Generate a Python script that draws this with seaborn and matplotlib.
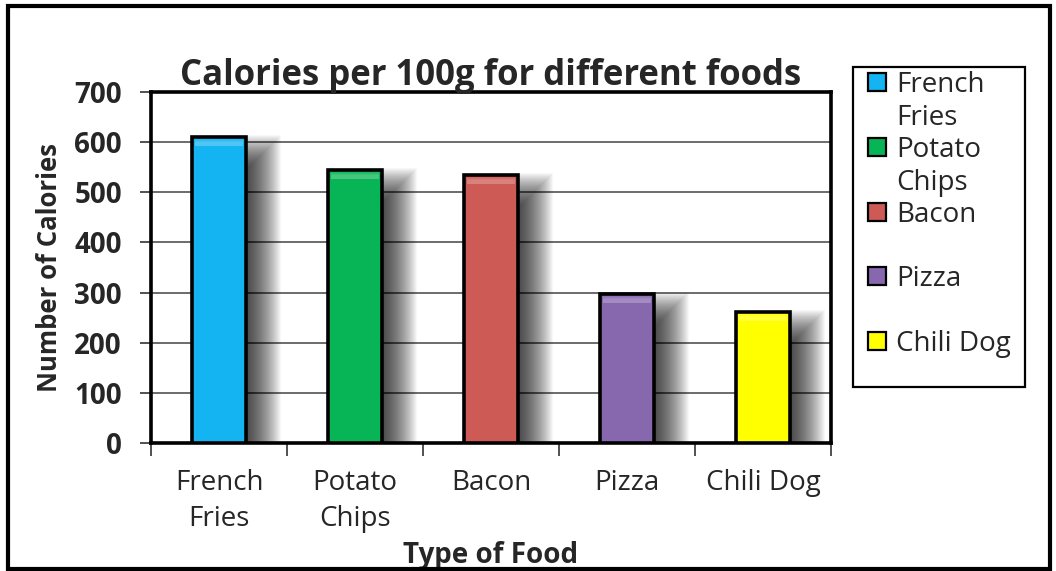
import numpy as np
import pandas as pd
import matplotlib
matplotlib.use("Agg")
import matplotlib.pyplot as plt
from matplotlib.patches import Rectangle
import seaborn as sns

# Data
foods = ["French\nFries", "Potato\nChips", "Bacon", "Pizza", "Chili Dog"]
calories = [610, 545, 535, 297, 262]
bar_colors = ["#14B4F2", "#08B556", "#CD5A55", "#8767AE", "#FFFF00"]
y_ticks = [0, 100, 200, 300, 400, 500, 600, 700]

sns.set_theme(style="white")
plt.rcParams["font.family"] = ["Open Sans", "DejaVu Sans"]

W, H = 1056, 571
fig = plt.figure(figsize=(W / 100, H / 100), dpi=100)
ax = fig.add_axes([151 / W, 1 - 443 / H, 680 / W, 351 / H])

df = pd.DataFrame({"food": foods, "calories": calories})
bar_w = 0.40
sns.barplot(data=df, x="food", y="calories", hue="food", palette=bar_colors,
            width=bar_w, saturation=1, edgecolor="black", linewidth=2.6,
            legend=False, ax=ax, zorder=3)

px_x = 1 / 136.0
px_y = 700 / 351.0
pos = np.arange(len(foods))
vals = np.array(calories, dtype=float)

# soft drop shadow to the lower right of every bar
dx, dy = 17 * px_x, 16 * px_y
for e in np.linspace(-18, 18, 37):
    ax.bar(pos + dx, vals - dy + e * px_y,
           width=bar_w + 2 * e * px_x, color="black", alpha=0.033,
           linewidth=0, zorder=2)

# gentle highlight along the top of each bar
for k in range(4):
    ax.bar(pos, (7 - k) * px_y, bottom=vals - 9 * px_y,
           width=bar_w - 6 * px_x, color="white", alpha=0.07,
           linewidth=0, zorder=4)

ax.set_xlim(-0.5, len(foods) - 0.5)
ax.set_ylim(0, 700)

# axes styling
for s in ax.spines.values():
    s.set_visible(True)
    s.set_color("black")
    s.set_linewidth(2.6)
ax.set_axisbelow(True)
ax.yaxis.grid(True, color="#444444", linewidth=1.1)
ax.xaxis.grid(False)

ax.set_yticks(y_ticks)
ax.set_yticklabels([str(v) for v in y_ticks], fontsize=20, fontweight="bold")
ax.tick_params(axis="y", left=True, length=8, width=1.2, color="#333333",
               direction="out", pad=13)

ax.set_xticks(pos)
ax.set_xticklabels(foods, fontsize=20, linespacing=1.38)
ax.set_xticks(np.arange(-0.5, len(foods), 1.0), minor=True)
ax.tick_params(axis="x", which="major", bottom=False, length=0, pad=19)
ax.tick_params(axis="x", which="minor", bottom=True, length=9, width=1.2,
               color="#333333", direction="out")

ax.set_title("Calories per 100g for different foods", fontsize=25,
             fontweight="bold", pad=5)
ax.set_xlabel("Type of Food", fontsize=20, fontweight="bold")
ax.set_ylabel("Number of Calories", fontsize=18.5, fontweight="bold")
ax.xaxis.set_label_coords(0.5, -0.28)
ax.yaxis.set_label_coords(-0.130, 0.5)

# legend panel
fig.patches.append(Rectangle((853 / W, 1 - 387 / H), (1025 - 853) / W,
                             (387 - 67) / H, transform=fig.transFigure,
                             fill=False, edgecolor="black", linewidth=1.6))
for i, (lab, col) in enumerate(zip(foods, bar_colors)):
    yc = 82 + 64.75 * i
    fig.patches.append(Rectangle((868 / W, 1 - (yc + 9) / H), 18 / W, 18 / H,
                                 transform=fig.transFigure, facecolor=col,
                                 edgecolor="black", linewidth=1.6))
    for j, line in enumerate(lab.split("\n")):
        fig.text(896 / W, 1 - (yc + 10 + 33 * j) / H, line, fontsize=20,
                 va="baseline", ha="left")

# outer frame
fig.patches.append(Rectangle((8 / W, 1 - 569 / H), (1050 - 8) / W, (569 - 6) / H,
                             transform=fig.transFigure, fill=False,
                             edgecolor="black", linewidth=3))

fig.savefig("out.png", dpi=100, facecolor="white")
